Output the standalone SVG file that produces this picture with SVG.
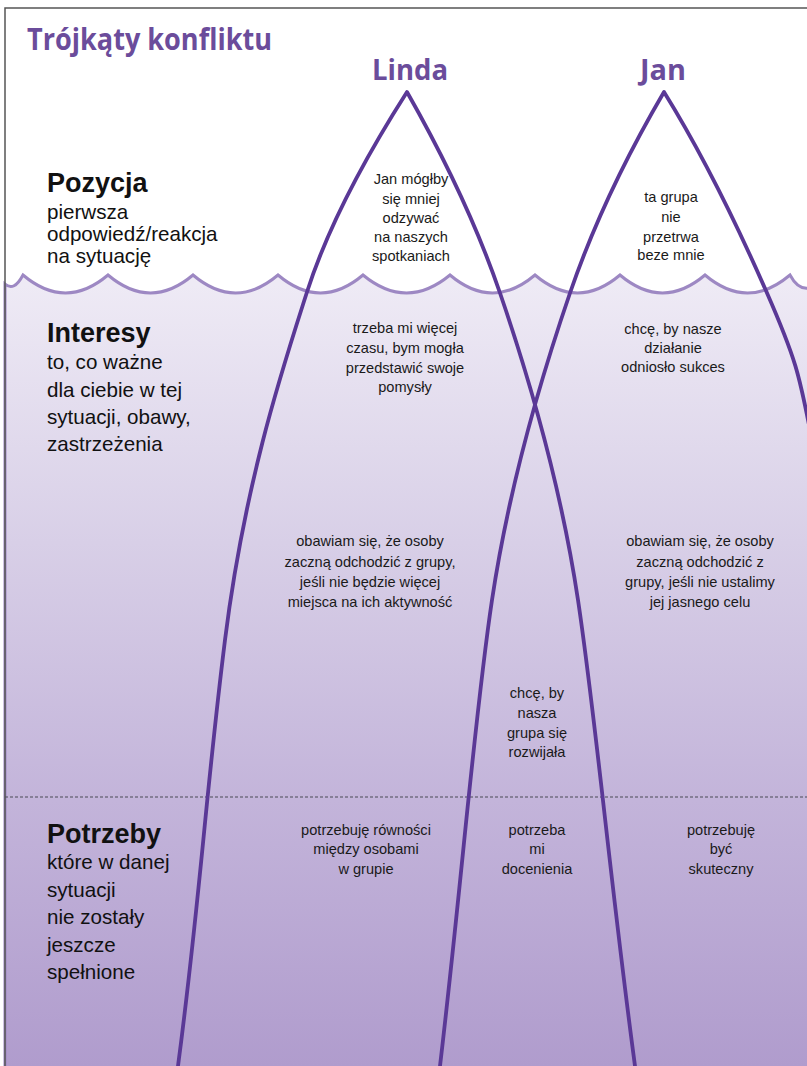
<svg xmlns="http://www.w3.org/2000/svg" width="807" height="1066" viewBox="0 0 807 1066">
  <defs>
    <linearGradient id="sea" gradientUnits="userSpaceOnUse" x1="0" y1="285" x2="0" y2="1066">
      <stop offset="0" stop-color="#eeeaf5"/>
      <stop offset="0.33" stop-color="#d8cfe7"/>
      <stop offset="0.66" stop-color="#c3b4da"/>
      <stop offset="1" stop-color="#b09ccd"/>
    </linearGradient>
  </defs>
  <style>
    .leg { fill: none; stroke: #5a3896; stroke-width: 3.8; stroke-linejoin: round; stroke-linecap: round; }
    .wave { fill: url(#sea); stroke: #9d88c3; stroke-width: 3; }
    .head { font-family: "Liberation Sans", Arial, sans-serif; font-weight: bold; font-size: 27px; fill: #111; }
    .sub { font-family: "Liberation Sans", Arial, sans-serif; font-size: 20.6px; fill: #111; }
    .note { font-family: "Liberation Sans", Arial, sans-serif; font-size: 14.6px; fill: #1a1a1a; text-anchor: middle; }
    .title { font-family: "Open Sans", "Liberation Sans", sans-serif; font-weight: bold; fill: #6b4c9b; }
  </style>

  <rect x="0" y="0" width="807" height="1066" fill="#ffffff"/>

  <!-- sea / water area with scalloped surface -->
  <path class="wave" d="M5,284 Q14,292 23,275 Q65.5,311 108,275 Q150.5,311 193,275 Q235.5,311 278,275 Q320.5,311 363,275 Q406.5,311 450,275 Q492.5,311 535,275 Q577.5,311 620,275 Q662.5,311 705,275 Q747.5,311 790,275 Q798,290 809,288 L809,1068 L5,1068 Z"/>

  <!-- dashed divider -->
  <line x1="5" y1="797" x2="807" y2="797" stroke="#4a4a55" stroke-width="1.2" stroke-dasharray="3,2"/>

  <!-- frame -->
  <path d="M5,1066 L5,8 L807,8" fill="none" stroke="#555" stroke-width="1.5"/>

  <!-- title -->
  <g id="title">
    <text class="title" x="27" y="50" font-size="30" textLength="245" lengthAdjust="spacingAndGlyphs">Trójkąty konfliktu</text>
  </g>
  <g id="name-linda">
    <text class="title" x="372" y="80" font-size="28" textLength="76" lengthAdjust="spacingAndGlyphs">Linda</text>
  </g>
  <g id="name-jan">
    <text class="title" x="640" y="80" font-size="28" textLength="46" lengthAdjust="spacingAndGlyphs">Jan</text>
  </g>

  <!-- triangle legs -->
  <g id="connectors">
    <path class="leg" d="M178,1066 C200,900 205,800 225,640 S284,364 307,292 S370,150 407,92 C440,150 475,220 500,293 S560,480 578,600 S610,880 635,1066"/>
    <path class="leg" d="M440,1066 C462,880 474,720 492,600 S545,366 570,293 S630,150 664,92 C700,150 735,220 767,293 S800,380 812,440"/>
  </g>

  <!-- left column labels -->
  <g id="label-pozycja">
    <text class="head" x="47" y="192">Pozycja</text>
    <text class="sub" x="47" y="219">pierwsza</text>
    <text class="sub" x="47" y="241">odpowiedź/reakcja</text>
    <text class="sub" x="47" y="263">na sytuację</text>
  </g>
  <g id="label-interesy">
    <text class="head" x="47" y="342">Interesy</text>
    <text class="sub" x="47" y="369">to, co ważne</text>
    <text class="sub" x="47" y="396.5">dla ciebie w tej</text>
    <text class="sub" x="47" y="424">sytuacji, obawy,</text>
    <text class="sub" x="47" y="451">zastrzeżenia</text>
  </g>
  <g id="label-potrzeby">
    <text class="head" x="47" y="843">Potrzeby</text>
    <text class="sub" x="47" y="869">które w danej</text>
    <text class="sub" x="47" y="897">sytuacji</text>
    <text class="sub" x="47" y="924">nie zostały</text>
    <text class="sub" x="47" y="952">jeszcze</text>
    <text class="sub" x="47" y="979">spełnione</text>
  </g>

  <!-- Linda -->
  <g id="linda-pozycja">
    <text class="note" x="411" y="184">Jan mógłby</text>
    <text class="note" x="411" y="203.5">się mniej</text>
    <text class="note" x="411" y="222.5">odzywać</text>
    <text class="note" x="411" y="242">na naszych</text>
    <text class="note" x="411" y="260.5">spotkaniach</text>
  </g>
  <g id="linda-interes-1">
    <text class="note" x="405" y="333">trzeba mi więcej</text>
    <text class="note" x="405" y="353">czasu, bym mogła</text>
    <text class="note" x="405" y="373">przedstawić swoje</text>
    <text class="note" x="405" y="392">pomysły</text>
  </g>
  <g id="linda-interes-2">
    <text class="note" x="370" y="546">obawiam się, że osoby</text>
    <text class="note" x="370" y="567">zaczną odchodzić z grupy,</text>
    <text class="note" x="370" y="587">jeśli nie będzie więcej</text>
    <text class="note" x="370" y="607">miejsca na ich aktywność</text>
  </g>
  <g id="linda-potrzeba">
    <text class="note" x="366" y="835">potrzebuję równości</text>
    <text class="note" x="366" y="854">między osobami</text>
    <text class="note" x="366" y="874">w grupie</text>
  </g>

  <!-- Jan -->
  <g id="jan-pozycja">
    <text class="note" x="671" y="202">ta grupa</text>
    <text class="note" x="671" y="222">nie</text>
    <text class="note" x="671" y="242">przetrwa</text>
    <text class="note" x="671" y="260">beze mnie</text>
  </g>
  <g id="jan-interes-1">
    <text class="note" x="673" y="334">chcę, by nasze</text>
    <text class="note" x="673" y="353">działanie</text>
    <text class="note" x="673" y="372">odniosło sukces</text>
  </g>
  <g id="jan-interes-2">
    <text class="note" x="700" y="546">obawiam się, że osoby</text>
    <text class="note" x="700" y="567">zaczną odchodzić z</text>
    <text class="note" x="700" y="587">grupy, jeśli nie ustalimy</text>
    <text class="note" x="700" y="607">jej jasnego celu</text>
  </g>
  <g id="jan-potrzeba">
    <text class="note" x="721" y="835">potrzebuję</text>
    <text class="note" x="721" y="854">być</text>
    <text class="note" x="721" y="874">skuteczny</text>
  </g>

  <!-- shared -->
  <g id="wspolny-interes">
    <text class="note" x="537" y="698">chcę, by</text>
    <text class="note" x="537" y="718">nasza</text>
    <text class="note" x="537" y="738">grupa się</text>
    <text class="note" x="537" y="757">rozwijała</text>
  </g>
  <g id="wspolna-potrzeba">
    <text class="note" x="537" y="835">potrzeba</text>
    <text class="note" x="537" y="854">mi</text>
    <text class="note" x="537" y="874">docenienia</text>
  </g>
</svg>
